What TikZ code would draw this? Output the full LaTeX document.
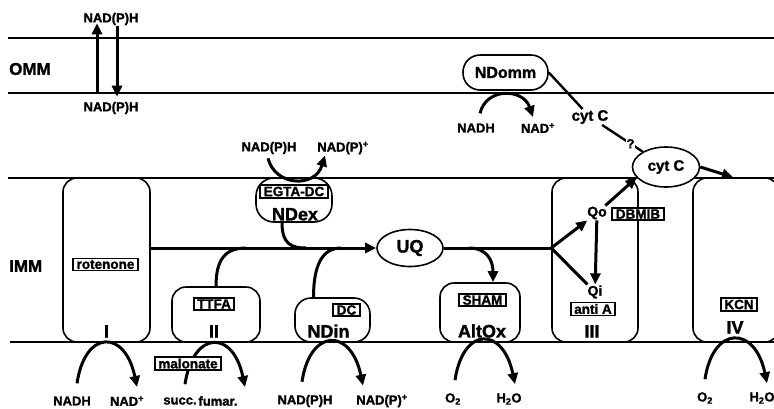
\documentclass[tikz,border=0pt]{standalone}
\usepackage{fontspec}
\setmainfont{Liberation Sans}[BoldFeatures={FakeBold=1.5}]
\usetikzlibrary{positioning, shapes.geometric, arrows.meta}

\begin{document}
\begin{tikzpicture}[x=1pt,y=-1pt,
 every node/.style={font=\bfseries\fontsize{13}{15}\selectfont, inner sep=1pt},
 mem line/.style={line width=2pt},
 cplx node/.style={draw, line width=1.6pt, rounded corners=14pt, fill=white, inner sep=0pt},
 oval node/.style={ellipse, draw, line width=1.6pt, fill=white, inner sep=0pt},
 inhib node/.style={draw, line width=1.8pt, fill=white, inner xsep=3.5pt, inner ysep=1.5pt, font=\bfseries\fontsize{13.5}{15}\selectfont},
 big node/.style={font=\bfseries\fontsize{18}{20}\selectfont},
 mid node/.style={font=\bfseries\fontsize{15}{17}\selectfont},
 flow/.style={line width=3pt, -{Triangle[length=11pt,width=10pt]}},
 link/.style={line width=3pt}]

  \useasboundingbox (0,0) rectangle (774,408);
  \clip (0,0) rectangle (774,408);

  \draw[mem line] (8,38) -- (774,38);
  \draw[mem line] (8,93) -- (774,93);
  \draw[mem line] (8,178) -- (774,178);
  \draw[mem line] (10,342) -- (774,342);

  \node[big node, anchor=west, font=\bfseries\fontsize{17}{18}\selectfont] (omm) at (8,69) {OMM};
  \node[big node, anchor=west, font=\bfseries\fontsize{17}{18}\selectfont] (imm) at (8,266) {IMM};

  \node[cplx node, minimum width=87pt, minimum height=164pt] (cI) at (106.5,260) {};
  \node[cplx node, minimum width=88pt, minimum height=55pt] (cII) at (216,314.5) {};
  \node[cplx node, minimum width=76pt, minimum height=44pt, rounded corners=18pt] (ndex) at (294,200) {};
  \node[cplx node, minimum width=75pt, minimum height=44pt, rounded corners=16pt] (ndin) at (332.5,320) {};
  \node[cplx node, minimum width=80pt, minimum height=59pt] (altox) at (480,312.5) {};
  \node[cplx node, minimum width=86pt, minimum height=164pt] (cIII) at (595,260) {};
  \node[cplx node, minimum width=86pt, minimum height=164pt] (cIV) at (736,260) {};
  \node[cplx node, minimum width=85pt, minimum height=35pt, rounded corners=17pt,
        font=\bfseries\fontsize{16}{18}\selectfont] (ndomm) at (505.5,72.5) {NDomm};
  \node[oval node, big node, minimum width=66pt, minimum height=37pt] (uq) at (410,248) {UQ};
  \node[oval node, mid node, minimum width=67pt, minimum height=40pt] (cytc) at (666,167) {cyt C};

  \node[big node, anchor=south] (lI) at ([shift={(0,-4)}]cI.south) {I};
  \node[big node, anchor=south] (lII) at ([shift={(-2,-4)}]cII.south) {II};
  \node[big node, anchor=south] (lIII) at ([shift={(-3,-4)}]cIII.south) {III};
  \node[big node, anchor=south] (lIV) at ([shift={(-1,-8)}]cIV.south) {IV};
  \node[big node, anchor=south] (lndex) at ([shift={(1,-1)}]ndex.south) {NDex};
  \node[big node, anchor=south] (lndin) at ([shift={(-4,-4)}]ndin.south) {NDin};
  \node[big node, anchor=south] (laltox) at ([shift={(2,-4)}]altox.south) {AltOx};

  \node[inhib node] (rot) at (105.5,264.5) {rotenone};
  \node[inhib node] (ttfa) at (214,304) {TTFA};
  \node[inhib node] (egta) at (294,191.5) {EGTA-DC};
  \node[inhib node] (dc) at (346.5,310) {DC};
  \node[inhib node] (sham) at (482.5,300) {SHAM};
  \node[inhib node] (dbmib) at (638,214) {DBMIB};
  \node[inhib node] (antia) at (593,309) {anti A};
  \node[inhib node] (kcn) at (739,304.5) {KCN};

  \node[font=\bfseries\fontsize{14}{16}\selectfont] (qo) at (597,213) {Qo};
  \node[font=\bfseries\fontsize{14}{16}\selectfont] (qi) at (595,292) {Qi};
  \node[mid node] (cyttxt) at (590,117) {cyt C};

  \node (ntop) at (111,19) {NAD(P)H};
  \node (nbot) at (111,108) {NAD(P)H};
  \node (nx1) at (269,148) {NAD(P)H};
  \node (nx2) at (343,148) {NAD(P)\textsuperscript{+}};
  \node (nadhO) at (476,128) {NADH};
  \node (nadO) at (538,128) {NAD\textsuperscript{+}};
  \node (nadhI) at (72,401) {NADH};
  \node (nadI) at (127,401) {NAD\textsuperscript{+}};
  \node (succ) at (180,401) {succ.};
  \node (fumar) at (218,401) {fumar.};
  \node (nadphN) at (305,401) {NAD(P)H};
  \node (nadpN) at (382,401) {NAD(P)\textsuperscript{+}};
  \node (o2A) at (453,399) {O\textsubscript{2}};
  \node (h2oA) at (509,399) {H\textsubscript{2}O};
  \node (o2B) at (705,398) {O\textsubscript{2}};
  \node (h2oB) at (762,398) {H\textsubscript{2}O};

  \draw[flow] ([shift={(-14,-8)}]nbot.north) -- ([shift={(-14,-3)}]ntop.south);
  \draw[flow] ([shift={(6,0)}]ntop.south) -- ([shift={(6,-4)}]nbot.north);

  \draw[flow] ([shift={(-1,3)}]nx1.south) .. controls +(7,28) and +(-10,33) .. ([shift={(-18,0)}]nx2.south);
  \draw[flow] ([shift={(4,-9)}]nadhO.north) .. controls +(6,-26) and +(-10,-29) .. ([shift={(-5,-5)}]nadO.north);

  \foreach \a/\b/\da/\db in {nadhI/nadI/5/10, succ/fumar/5/27, nadphN/nadpN/-3/-19, o2A/h2oA/2/6, o2B/h2oB/0/5} {
   \draw[flow] ([shift={(\da,-12)}]\a.north) .. controls +(8,-54) and +(-12,-58) .. ([shift={(\db,-8)}]\b.north);}

  \node[inhib node] (malo) at (188,363.5) {malonate};

  \coordinate (br) at (cIII.west |- uq.east);
  \draw[flow] (cI.east |- uq.west) -- (uq.west);
  \draw[link] ([shift={(-12,0)}]ndex.south) .. controls +(0,22) and +(-14,0) .. ([shift={(-70,0)}]uq.west);
  \draw[link] (cII.north) .. controls +(0,-28) and +(-20,0) .. ([shift={(-130,0)}]uq.west);
  \draw[link] ([shift={(-19,0)}]ndin.north) .. controls +(0,-30) and +(-20,0) .. ([shift={(-35,0)}]uq.west);
  \draw[link] (uq.east) -- (br);
  \draw[flow] ([shift={(25,0)}]uq.east) .. controls +(18,0) and +(0,-22) .. ([shift={(13,0)}]altox.north);

  \draw[flow] (br) -- (qo);
  \draw[link] (br) -- (qi);
  \draw[flow] (qo) -- (qi);
  \draw[flow] (qo) -- (cytc.200);
  \draw[flow] (cytc.east) -- ([shift={(-3,0)}]cIV.north);

  \draw[link, line width=2.4pt] (ndomm.east) -- (cyttxt);
  \draw[link, line width=2.4pt] (cyttxt) -- node[pos=0.7, fill=white, inner sep=0.5pt] {?} (cytc);
\end{tikzpicture}
\end{document}
